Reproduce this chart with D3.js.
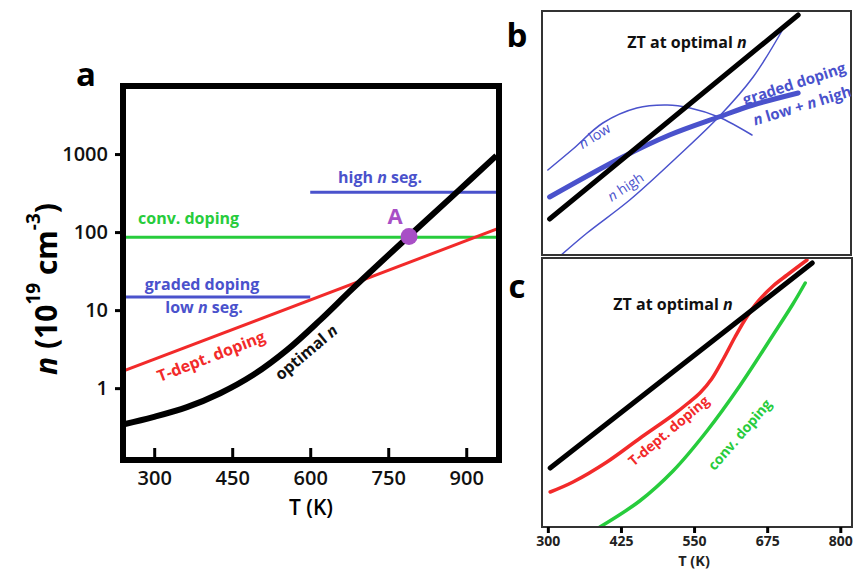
<!DOCTYPE html>
<html><head><meta charset="utf-8">
<script src="https://cdn.jsdelivr.net/npm/d3@7"></script>
<style>
html,body{margin:0;padding:0;background:#fff;}
text{font-family:"Open Sans","Noto Sans",sans-serif;}
</style></head>
<body><svg id="c" width="855" height="571"></svg>
<script>
// ---------- Panel a data (n in 1e19 cm^-3 vs T in K) ----------
const aTicksT = [300, 450, 600, 750, 900];
const aTicksN = [1, 10, 100, 1000];
const aOptT = [242, 298, 363, 427, 490, 555, 619, 682, 790, 880, 958];
const aOptN = [0.345, 0.425, 0.57, 0.86, 1.47, 3.07, 7.45, 19.0, 89, 316, 955];
const aTdeptT = [240, 963];
const aTdeptN = [1.65, 112];
const aConvT = [240, 963];
const aConvN = [86, 86];
const aLowSegT = [240, 600];
const aLowSegN = [14.7, 14.7];
const aHighSegT = [600, 963];
const aHighSegN = [325, 325];
const aPointA = [790, 88];

// ---------- Panel b data (ZT, arbitrary units) ----------
const bOptT = [303, 728];
const bOptZT = [0.18, 1.2];
const bGradedT = [303, 428, 508, 592, 651, 728];
const bGradedZT = [0.29, 0.49, 0.60, 0.69, 0.75, 0.81];
const bLowT = [300, 343, 394, 452, 504, 543, 592, 649];
const bLowZT = [0.425, 0.53, 0.66, 0.735, 0.75, 0.735, 0.69, 0.60];
const bHighT = [315, 367, 440, 521, 592, 651, 706];
const bHighZT = [-0.02, 0.11, 0.275, 0.49, 0.69, 0.89, 1.15];

// ---------- Panel c data ----------
const cTicksT = [300, 425, 550, 675, 800];
const cOptT = [304, 752];
const cOptZT = [0.295, 1.32];
const cTdeptT = [304, 343, 401, 458, 514, 540, 560, 580, 600, 620, 640, 660, 685, 709, 743];
const cTdeptZT = [0.175, 0.225, 0.325, 0.445, 0.56, 0.62, 0.67, 0.74, 0.84, 0.95, 1.05, 1.13, 1.205, 1.26, 1.335];
const cConvT = [389, 457, 514, 572, 628, 685, 719, 740];
const cConvZT = [0.0, 0.13, 0.28, 0.48, 0.705, 0.96, 1.115, 1.22];

const BLACK = "#000", RED = "#f22a2a", GREEN = "#27cc3c", BLUE = "#4a52cc", PURPLE = "#a84fc6";

const svg = d3.select("#c");
const zip = (xs, ys) => xs.map((x, i) => [x, ys[i]]);
const smooth = d3.curveCatmullRom.alpha(0.5);

// ===================== Panel a =====================
const xA = d3.scaleLinear().domain([240, 963]).range([123, 499]);
const yA = d3.scaleLog().domain([0.12, 7450]).range([460, 86]);
const lineA = d3.line().x(d => xA(d[0])).y(d => yA(d[1]));

svg.append("clipPath").attr("id", "clipA").append("rect")
  .attr("x", 123).attr("y", 86).attr("width", 376).attr("height", 374);

const gA = svg.append("g").attr("clip-path", "url(#clipA)");
gA.append("path").datum(zip(aConvT, aConvN)).attr("d", lineA)
  .attr("fill", "none").attr("stroke", GREEN).attr("stroke-width", 3);
gA.append("path").datum(zip(aTdeptT, aTdeptN)).attr("d", lineA)
  .attr("fill", "none").attr("stroke", RED).attr("stroke-width", 3);
gA.append("path").datum(zip(aLowSegT, aLowSegN)).attr("d", lineA)
  .attr("fill", "none").attr("stroke", BLUE).attr("stroke-width", 3);
gA.append("path").datum(zip(aHighSegT, aHighSegN)).attr("d", lineA)
  .attr("fill", "none").attr("stroke", BLUE).attr("stroke-width", 3);
gA.append("path").datum(zip(aOptT, aOptN)).attr("d", lineA.curve(smooth))
  .attr("fill", "none").attr("stroke", BLACK).attr("stroke-width", 6);
gA.append("circle").attr("cx", xA(aPointA[0])).attr("cy", yA(aPointA[1])).attr("r", 8.5)
  .attr("fill", PURPLE);

// axes of a
const axAx = svg.append("g").attr("transform", "translate(0,460)")
  .call(d3.axisBottom(xA).tickValues(aTicksT).tickSizeInner(-12).tickSizeOuter(0).tickPadding(11));
axAx.select(".domain").remove();
axAx.selectAll("line").attr("stroke", BLACK).attr("stroke-width", 3);
axAx.selectAll("text").attr("font-size", 20).attr("font-weight", 600).attr("fill", "#111");

const axAy = svg.append("g").attr("transform", "translate(123,0)")
  .call(d3.axisLeft(yA).tickValues(aTicksN).tickFormat(d3.format("d")).tickSizeInner(8).tickSizeOuter(0).tickPadding(7));
axAy.select(".domain").remove();
axAy.selectAll("line").attr("stroke", BLACK).attr("stroke-width", 3);
axAy.selectAll("text").attr("font-size", 20).attr("font-weight", 600).attr("fill", "#111");

svg.append("rect").attr("x", 123).attr("y", 86).attr("width", 376).attr("height", 374)
  .attr("fill", "none").attr("stroke", BLACK).attr("stroke-width", 6);

svg.append("text").attr("x", 311).attr("y", 515).attr("text-anchor", "middle")
  .attr("font-size", 21).attr("font-weight", 600).text("T (K)");

const yt = svg.append("text").attr("transform", "translate(45,289) rotate(-90)")
  .attr("text-anchor", "middle").attr("dominant-baseline", "central")
  .attr("font-size", 30).attr("font-weight", 700);
yt.append("tspan").attr("font-style", "italic").text("n");
yt.append("tspan").text(" (10");
yt.append("tspan").attr("font-size", 19).attr("dy", -12).text("19");
yt.append("tspan").attr("dy", 12).text(" cm");
yt.append("tspan").attr("font-size", 19).attr("dy", -12).text("-3");
yt.append("tspan").attr("dy", 12).text(")");

svg.append("text").attr("x", 86).attr("y", 86).attr("text-anchor", "middle")
  .attr("font-size", 33).attr("font-weight", 700).text("a");

// labels of a
function richText(g, parts, attrs) {
  const t = g.append("text");
  Object.entries(attrs).forEach(([k, v]) => t.attr(k, v));
  parts.forEach(p => {
    const s = t.append("tspan").text(p[0]);
    if (p[1]) s.attr("font-style", "italic");
  });
  return t;
}
richText(svg, [["conv. doping"]], {x: 138, y: 224, "font-size": 16, "font-weight": 700, fill: GREEN});
richText(svg, [["high "], ["n", 1], [" seg."]], {x: 380, y: 183, "text-anchor": "middle", "font-size": 16, "font-weight": 700, fill: BLUE});
richText(svg, [["graded doping"]], {x: 202, y: 290, "text-anchor": "middle", "font-size": 16, "font-weight": 700, fill: BLUE});
richText(svg, [["low "], ["n", 1], [" seg."]], {x: 204, y: 313, "text-anchor": "middle", "font-size": 16, "font-weight": 700, fill: BLUE});
richText(svg, [["T-dept. doping"]], {transform: "translate(211,356) rotate(-21)", "text-anchor": "middle", "dominant-baseline": "central", "font-size": 16, "font-weight": 700, fill: RED});
richText(svg, [["optimal "], ["n", 1]], {transform: "translate(306,352) rotate(-40)", "text-anchor": "middle", "dominant-baseline": "central", "font-size": 16, "font-weight": 700, fill: "#111"});
svg.append("text").attr("x", 395).attr("y", 224).attr("text-anchor", "middle")
  .attr("font-size", 22).attr("font-weight", 700).attr("fill", PURPLE).text("A");

// ===================== Panels b & c =====================
const xBC = d3.scaleLinear().domain([290, 820]).range([542, 852]);
const yB = d3.scaleLinear().domain([0, 1.22]).range([255, 11]);
const yC = d3.scaleLinear().domain([0, 1.345]).range([527, 258]);

svg.append("clipPath").attr("id", "clipB").append("rect")
  .attr("x", 542).attr("y", 11).attr("width", 309).attr("height", 244);
svg.append("clipPath").attr("id", "clipC").append("rect")
  .attr("x", 542).attr("y", 258).attr("width", 310).attr("height", 269);

const lineB = d3.line().x(d => xBC(d[0])).y(d => yB(d[1])).curve(smooth);
const lineC = d3.line().x(d => xBC(d[0])).y(d => yC(d[1])).curve(smooth);

const gB = svg.append("g").attr("clip-path", "url(#clipB)");
[[bLowT, bLowZT, 1.5], [bHighT, bHighZT, 1.5], [bGradedT, bGradedZT, 5]].forEach(([t, z, w]) => {
  gB.append("path").datum(zip(t, z)).attr("d", lineB).attr("fill", "none")
    .attr("stroke", BLUE).attr("stroke-width", w).attr("stroke-linecap", "round");
});
gB.append("path").datum(zip(bOptT, bOptZT)).attr("d", lineB).attr("fill", "none")
  .attr("stroke", BLACK).attr("stroke-width", 5).attr("stroke-linecap", "round");

svg.append("rect").attr("x", 542).attr("y", 11).attr("width", 309).attr("height", 244)
  .attr("fill", "none").attr("stroke", "#333").attr("stroke-width", 2);

const gC = svg.append("g").attr("clip-path", "url(#clipC)");
gC.append("path").datum(zip(cConvT, cConvZT)).attr("d", lineC).attr("fill", "none")
  .attr("stroke", GREEN).attr("stroke-width", 3.5).attr("stroke-linecap", "round");
gC.append("path").datum(zip(cTdeptT, cTdeptZT)).attr("d", lineC).attr("fill", "none")
  .attr("stroke", RED).attr("stroke-width", 3.5).attr("stroke-linecap", "round");
gC.append("path").datum(zip(cOptT, cOptZT)).attr("d", lineC).attr("fill", "none")
  .attr("stroke", BLACK).attr("stroke-width", 5).attr("stroke-linecap", "round");

svg.append("rect").attr("x", 542).attr("y", 258).attr("width", 310).attr("height", 269)
  .attr("fill", "none").attr("stroke", "#333").attr("stroke-width", 2);

const axC = svg.append("g").attr("transform", "translate(0,527)")
  .call(d3.axisBottom(xBC).tickValues(cTicksT).tickSizeInner(6).tickSizeOuter(0).tickPadding(3));
axC.select(".domain").remove();
axC.selectAll("line").attr("stroke", BLACK).attr("stroke-width", 3);
axC.selectAll("text").attr("font-size", 14).attr("font-weight", 700).attr("fill", "#222");

svg.append("text").attr("x", 694).attr("y", 566).attr("text-anchor", "middle")
  .attr("font-size", 14.5).attr("font-weight", 700).attr("fill", "#222").text("T (K)");

svg.append("text").attr("x", 517).attr("y", 47).attr("text-anchor", "middle")
  .attr("font-size", 33).attr("font-weight", 700).text("b");
svg.append("text").attr("x", 517).attr("y", 298).attr("text-anchor", "middle")
  .attr("font-size", 33).attr("font-weight", 700).text("c");

// labels b
richText(svg, [["ZT at optimal "], ["n", 1]], {x: 687, y: 48, "text-anchor": "middle", "font-size": 16, "font-weight": 700, fill: "#111"});
richText(svg, [["n", 1], [" low"]], {transform: "translate(594,135) rotate(-32)", "text-anchor": "middle", "dominant-baseline": "central", "font-size": 14, fill: BLUE});
richText(svg, [["n", 1], [" high"]], {transform: "translate(625,186) rotate(-33)", "text-anchor": "middle", "dominant-baseline": "central", "font-size": 14, fill: BLUE});
richText(svg, [["graded doping"]], {transform: "translate(794,83) rotate(-18)", "text-anchor": "middle", "dominant-baseline": "central", "font-size": 15, "font-weight": 700, fill: BLUE});
richText(svg, [["n", 1], [" low + "], ["n", 1], [" high"]], {transform: "translate(802,105) rotate(-17)", "text-anchor": "middle", "dominant-baseline": "central", "font-size": 15, "font-weight": 700, fill: BLUE});

// labels c
richText(svg, [["ZT at optimal "], ["n", 1]], {x: 673, y: 310, "text-anchor": "middle", "font-size": 16, "font-weight": 700, fill: "#111"});
richText(svg, [["T-dept. doping"]], {transform: "translate(668,430) rotate(-40)", "text-anchor": "middle", "dominant-baseline": "central", "font-size": 14, "font-weight": 700, fill: RED});
richText(svg, [["conv. doping"]], {transform: "translate(739,434) rotate(-49)", "text-anchor": "middle", "dominant-baseline": "central", "font-size": 14, "font-weight": 700, fill: GREEN});
</script></body></html>
